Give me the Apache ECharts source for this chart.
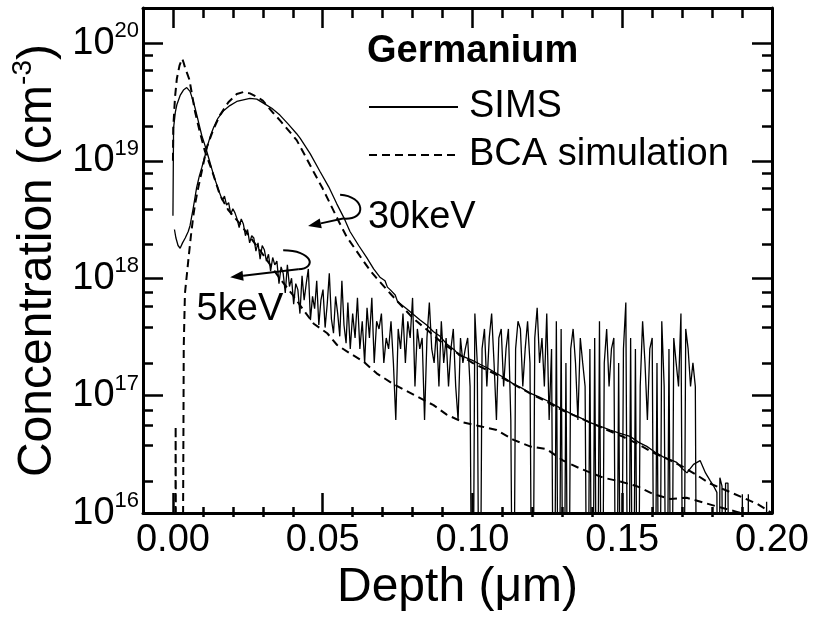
<!DOCTYPE html>
<html>
<head>
<meta charset="utf-8">
<script src="https://cdn.jsdelivr.net/npm/echarts@6/dist/echarts.min.js"></script>
<style>
    html, body { margin: 0; padding: 0; background: #fff; }
    #chart { width: 817px; height: 617px; }
</style>
</head>
<body>
<div id="chart"></div>
<script>
// Depth in um, concentration in cm^-3. A 0 is a zero-count SIMS channel.
const sims5keV = [
    [0.0000, 3.4e18], [0.0002, 1.9e19], [0.0008, 2.6e19], [0.0013, 3.0e19], [0.0024, 3.6e19],
    [0.0035, 4.0e19], [0.0046, 4.2e19], [0.0052, 4.1e19], [0.0057, 3.9e19], [0.0063, 3.5e19],
    [0.0068, 3.2e19], [0.0074, 2.8e19], [0.0079, 2.5e19], [0.0088, 2.0e19], [0.0096, 1.65e19],
    [0.0105, 1.4e19], [0.0113, 1.2e19], [0.0122, 1.0e19], [0.0130, 8.5e18], [0.0138, 7.2e18],
    [0.0146, 6.3e18], [0.0155, 5.4e18],
    [0.0165, 4.6e18], [0.0172, 5.0e18], [0.0179, 4.2e18], [0.0186, 4.4e18], [0.0193, 3.5e18],
    [0.0200, 3.9e18], [0.0207, 3.6e18], [0.0214, 3.2e18], [0.0221, 2.7e18], [0.0228, 3.2e18],
    [0.0235, 2.9e18], [0.0242, 2.3e18], [0.0249, 2.6e18], [0.0256, 2.0e18], [0.0263, 2.3e18],
    [0.0270, 2.2e18], [0.0277, 1.7e18], [0.0284, 2.0e18], [0.0291, 1.45e18], [0.0298, 1.9e18],
    [0.0305, 1.75e18], [0.0312, 1.4e18], [0.0319, 1.6e18], [0.0326, 1.15e18], [0.0333, 1.5e18],
    [0.0340, 1.3e18], [0.0347, 1.4e18], [0.0354, 9.0e17], [0.0361, 1.25e18], [0.0368, 1.1e18],
    [0.0375, 7.5e17], [0.0382, 1.3e18], [0.0389, 8.5e17], [0.0396, 1.0e18], [0.0403, 6.0e17],
    [0.0410, 9.0e17], [0.0417, 8.0e17], [0.0424, 5.0e17], [0.0431, 1.05e18], [0.0438, 6.5e17],
    [0.0445, 9.0e17], [0.0452, 1.2e18], [0.0459, 4.4e17], [0.0466, 7.0e17], [0.0473, 5.5e17],
    [0.0480, 9.5e17], [0.0487, 4.0e17], [0.0494, 6.5e17], [0.0501, 8.0e17], [0.0508, 3.8e17],
    [0.0515, 6.0e17], [0.0522, 1.1e18], [0.0529, 4.5e17], [0.0536, 3.4e17], [0.0543, 7.0e17],
    [0.0550, 5.0e17], [0.0557, 3.2e17], [0.0564, 9.5e17], [0.0571, 4.0e17], [0.0578, 2.8e17],
    [0.0584, 6.2e17], [0.0592, 2.5e17], [0.0600, 5.0e17], [0.0608, 3.1e17], [0.0616, 6.8e17],
    [0.0624, 2.5e17], [0.0632, 4.3e17], [0.0640, 1.9e17], [0.0648, 5.6e17], [0.0656, 3.1e17],
    [0.0664, 6.8e17], [0.0672, 1.9e17], [0.0680, 4.3e17], [0.0688, 3.7e17], [0.0696, 5.0e17],
    [0.0704, 1.9e17], [0.0712, 3.1e17], [0.0720, 2.5e17], [0.0728, 4.3e17], [0.0736, 1.9e17],
    [0.0744, 6.2e16], [0.0752, 3.7e17], [0.0760, 2.5e17], [0.0768, 5.0e17], [0.0776, 1.9e17],
    [0.0784, 4.3e17], [0.0792, 3.1e17], [0.0800, 6.8e17], [0.0808, 1.2e17], [0.0816, 3.7e17],
    [0.0824, 2.5e17], [0.0832, 3.1e17], [0.0840, 6.2e16], [0.0848, 3.1e17], [0.0856, 6.2e17],
    [0.0864, 2.5e17], [0.0872, 1.9e17], [0.0880, 3.7e17], [0.0888, 1.2e17], [0.0896, 4.3e17],
    [0.0904, 1.9e17], [0.0912, 3.1e17], [0.0920, 1.2e17], [0.0928, 2.5e17], [0.0936, 3.7e17],
    [0.0944, 1.2e17], [0.0952, 6.2e16], [0.0960, 3.1e17], [0.0968, 1.9e17], [0.0976, 2.5e17],
    [0.0984, 3.1e17], [0.0992, 1.2e17], [0.1000, 0], [0.1008, 5.0e17], [0.1016, 1.9e17],
    [0.1024, 0], [0.1032, 2.5e17], [0.1040, 3.7e17], [0.1048, 1.2e17], [0.1056, 3.1e17],
    [0.1064, 5.0e17], [0.1072, 1.9e17], [0.1080, 6.2e16], [0.1088, 3.1e17], [0.1096, 3.7e17],
    [0.1104, 1.2e17], [0.1112, 2.5e17], [0.1120, 3.7e17], [0.1128, 6.2e16], [0.1136, 0],
    [0.1144, 2.5e17], [0.1152, 4.3e17], [0.1160, 3.7e17], [0.1168, 1.2e17], [0.1176, 2.5e17],
    [0.1184, 4.3e17], [0.1192, 1.9e17], [0.1200, 0], [0.1208, 3.1e17], [0.1216, 5.6e17],
    [0.1224, 1.9e17], [0.1232, 3.1e17], [0.1240, 1.2e17], [0.1248, 5.0e17], [0.1256, 6.2e16],
    [0.1264, 2.5e17], [0.1272, 0], [0.1280, 4.3e17], [0.1288, 0], [0.1296, 3.7e17],
    [0.1304, 0], [0.1312, 1.9e17], [0.1320, 0], [0.1328, 2.5e17], [0.1336, 3.7e17],
    [0.1344, 1.9e17], [0.1352, 6.2e16], [0.1360, 3.1e17], [0.1368, 1.9e17], [0.1376, 1.2e17],
    [0.1384, 0], [0.1392, 2.5e17], [0.1400, 0], [0.1408, 3.1e17], [0.1416, 0],
    [0.1424, 4.3e17], [0.1432, 0], [0.1440, 1.9e17], [0.1448, 3.7e17], [0.1456, 1.2e17],
    [0.1464, 2.5e17], [0.1472, 3.1e17], [0.1480, 0], [0.1488, 1.9e17], [0.1496, 0],
    [0.1504, 2.5e17], [0.1512, 6.2e17], [0.1520, 0], [0.1528, 3.1e17], [0.1536, 0],
    [0.1544, 2.5e17], [0.1552, 0], [0.1560, 1.2e17], [0.1568, 4.3e17], [0.1576, 1.9e17],
    [0.1584, 6.2e16], [0.1592, 2.5e17], [0.1600, 3.1e17], [0.1608, 0], [0.1616, 1.9e17],
    [0.1624, 0], [0.1632, 4.3e17], [0.1640, 1.2e17], [0.1648, 0], [0.1656, 2.5e17],
    [0.1664, 0], [0.1672, 3.1e17], [0.1680, 1.9e17], [0.1688, 1.2e17], [0.1696, 5.0e17],
    [0.1704, 0], [0.1712, 3.7e17], [0.1720, 2.5e17], [0.1728, 1.2e17], [0.1736, 1.9e17],
    [0.1744, 1.2e17], [0.1750, 0],
]

const bca5keV = [
    [0.0000, 1.0e19], [0.0001, 1.9e19], [0.0007, 3.5e19], [0.0013, 5.0e19], [0.0022, 6.5e19],
    [0.0031, 7.4e19], [0.0036, 6.8e19], [0.0042, 6.0e19], [0.0048, 5.5e19], [0.0055, 4.9e19],
    [0.0065, 3.5e19], [0.0074, 2.6e19], [0.0090, 1.75e19], [0.0107, 1.2e19], [0.0130, 8.3e18],
    [0.0157, 5.1e18], [0.0185, 3.8e18], [0.0224, 2.9e18], [0.0260, 2.2e18], [0.0300, 1.6e18],
    [0.0350, 1.05e18], [0.0400, 7.2e17], [0.0435, 5.4e17], [0.0470, 4.1e17], [0.0515, 3.4e17],
    [0.0548, 2.7e17], [0.0590, 2.3e17], [0.0636, 1.95e17], [0.0680, 1.55e17], [0.0735, 1.26e17],
    [0.0800, 1.03e17], [0.0870, 8.3e16], [0.0914, 6.9e16], [0.0970, 5.9e16], [0.1025, 5.5e16],
    [0.1081, 5.1e16], [0.1137, 4.2e16], [0.1192, 3.7e16], [0.1248, 3.5e16], [0.1303, 2.8e16],
    [0.1359, 2.4e16], [0.1437, 2.0e16], [0.1493, 1.86e16], [0.1548, 1.7e16], [0.1604, 1.45e16],
    [0.1660, 1.32e16], [0.1715, 1.35e16], [0.1771, 1.23e16], [0.1826, 1.12e16], [0.1880, 1.03e16],
    [0.1930, 0.95e16], [0.2000, 0.85e16],
]

const sims30keV = [
    [0.0005, 2.6e18], [0.0010, 2.2e18], [0.0017, 1.9e18], [0.0024, 1.8e18], [0.0032, 2.0e18],
    [0.0041, 2.2e18], [0.0051, 2.5e18], [0.0057, 2.8e18], [0.0068, 4.0e18], [0.0079, 5.9e18],
    [0.0088, 7.4e18], [0.0096, 8.7e18], [0.0105, 1.05e19], [0.0113, 1.28e19], [0.0124, 1.6e19],
    [0.0135, 1.9e19], [0.0150, 2.3e19], [0.0168, 2.65e19], [0.0190, 2.95e19], [0.0213, 3.2e19],
    [0.0235, 3.3e19], [0.0257, 3.4e19], [0.0280, 3.35e19], [0.0302, 3.1e19], [0.0330, 2.8e19],
    [0.0357, 2.45e19], [0.0385, 2.05e19], [0.0413, 1.7e19], [0.0425, 1.55e19], [0.0458, 1.15e19],
    [0.0491, 8.1e18], [0.0520, 6.0e18], [0.0547, 4.3e18], [0.0570, 3.3e18], [0.0591, 2.5e18],
    [0.0620, 1.9e18], [0.0647, 1.5e18], [0.0670, 1.2e18], [0.0691, 1.02e18], [0.0708, 9.5e17],
    [0.0716, 8.4e17], [0.0725, 8.0e17], [0.0742, 7.2e17], [0.0750, 6.3e17], [0.0758, 6.1e17],
    [0.0780, 5.5e17], [0.0803, 4.9e17], [0.0825, 4.4e17], [0.0847, 4.0e17], [0.0870, 3.5e17],
    [0.0892, 3.2e17], [0.0914, 2.75e17], [0.0940, 2.45e17], [0.0955, 2.2e17], [0.0970, 2.15e17],
    [0.1000, 2.0e17], [0.1025, 1.85e17], [0.1050, 1.72e17], [0.1080, 1.55e17], [0.1110, 1.4e17],
    [0.1136, 1.26e17], [0.1165, 1.16e17], [0.1192, 1.05e17], [0.1220, 9.8e16], [0.1248, 9.1e16],
    [0.1275, 8.3e16], [0.1303, 7.6e16], [0.1330, 7.0e16], [0.1359, 6.5e16], [0.1393, 5.9e16],
    [0.1425, 5.5e16], [0.1460, 5.1e16], [0.1490, 4.8e16], [0.1526, 4.5e16], [0.1555, 4.0e16],
    [0.1582, 3.7e16], [0.1610, 3.3e16], [0.1638, 3.0e16], [0.1660, 2.85e16], [0.1682, 2.7e16],
    [0.1700, 2.4e16], [0.1716, 2.2e16], [0.1738, 2.6e16], [0.1760, 2.8e16], [0.1778, 2.2e16],
    [0.1793, 1.9e16], [0.1805, 1.7e16], [0.1816, 1.5e16], [0.1822, 0], [0.1826, 2.0e16],
    [0.1833, 1.7e16], [0.1838, 0], [0.1845, 1.8e16], [0.1853, 1.8e16], [0.1858, 0],
    [0.1898, 0], [0.1901, 1.45e16], [0.1905, 0], [0.1918, 0], [0.1921, 1.45e16],
    [0.1925, 0], [0.1979, 0], [0.1982, 1.25e16], [0.1986, 0],
]

const bca30keV = [
    [0.0007, 0], [0.0009, 5.5e16], [0.0011, 0], [0.0032, 0], [0.0034, 1.2e16],
    [0.0035, 5.0e16], [0.0036, 2.6e17], [0.0040, 7.4e17], [0.0051, 1.4e18], [0.0060, 2.3e18],
    [0.0068, 3.4e18], [0.0074, 4.3e18], [0.0085, 6.0e18], [0.0096, 8.1e18], [0.0113, 1.3e19],
    [0.0135, 1.85e19], [0.0157, 2.45e19], [0.0185, 3.15e19], [0.0213, 3.7e19], [0.0235, 3.85e19],
    [0.0257, 3.75e19], [0.0280, 3.5e19], [0.0300, 3.25e19], [0.0335, 2.55e19], [0.0358, 2.2e19],
    [0.0413, 1.5e19], [0.0440, 1.12e19], [0.0469, 8.1e18], [0.0500, 5.8e18], [0.0525, 4.3e18],
    [0.0555, 3.0e18], [0.0580, 2.25e18], [0.0610, 1.75e18], [0.0636, 1.4e18], [0.0660, 1.15e18],
    [0.0680, 1.0e18], [0.0730, 7.2e17], [0.0800, 4.6e17], [0.0850, 3.6e17], [0.0900, 2.8e17],
    [0.0950, 2.3e17], [0.1000, 1.9e17], [0.1050, 1.65e17], [0.1100, 1.42e17], [0.1150, 1.2e17],
    [0.1200, 1.02e17], [0.1250, 8.8e16], [0.1300, 7.5e16], [0.1350, 6.6e16], [0.1400, 5.8e16],
    [0.1450, 5.1e16], [0.1500, 4.5e16], [0.1550, 3.9e16], [0.1600, 3.3e16], [0.1650, 2.9e16],
    [0.1700, 2.5e16], [0.1750, 2.1e16], [0.1790, 1.8e16], [0.1850, 1.55e16], [0.1904, 1.35e16],
    [0.1950, 1.2e16], [0.1982, 1.07e16], [0.2000, 1.0e16],
]

const xMajorTicks = [0, 0.05, 0.1, 0.15, 0.2]
const xMinorTicks = [0.01, 0.02, 0.03, 0.04, 0.06, 0.07, 0.08, 0.09, 0.11, 0.12, 0.13, 0.14, 0.16, 0.17, 0.18, 0.19]
const yMajorTicks = [1e16, 1e17, 1e18, 1e19, 1e20]
const yMinorTicks = [
    2e16, 4e16, 6e16, 8e16, 2e17, 4e17, 6e17, 8e17,
    2e18, 4e18, 6e18, 8e18, 2e19, 4e19, 6e19, 8e19,
]

// energy labels with their looped arrows, anchored in data units
const notes = [
    {
        label: '30keV', labelAt: [0.0651, 3.3e18],
        loop: [[0.0558, 5.15e18], [0.0641, 5.0e18], [0.0651, 3.1e18], [0.0568, 3.22e18]],
        tip: [0.0451, 2.78e18],
    },
    {
        label: '5keV', labelAt: [0.0079, 5.4e17],
        loop: [[0.0368, 1.73e18], [0.0464, 1.73e18], [0.0484, 1.22e18], [0.0418, 1.19e18]],
        tip: [0.0191, 1.02e18],
    },
]

const font = "'Liberation Sans', Arial, Helvetica, sans-serif"
const ink = '#000'
const belowAxis = 1e14 // stand-in for zero counts on the log axis
const toPlot = (pts) => pts.map(([d, c]) => [d, c > 0 ? c : belowAxis])

const majorTick = (values) => ({
    show: true, inside: true, length: 20, customValues: values,
    lineStyle: { color: ink, width: 2.5 },
})
const minorTick = (values) => ({
    show: true, inside: true, length: 10, customValues: values,
    lineStyle: { color: ink, width: 2.5 },
})
const frameLine = { show: true, onZero: false, lineStyle: { color: ink, width: 3 } }
const noLine = { show: false, onZero: false }

const xBase = { type: 'value', min: -0.01, max: 0.2, splitLine: { show: false } }
const yBase = { type: 'log', logBase: 10, min: 1e16, max: 2e20, splitLine: { show: false } }

const solid = { color: ink, width: 1.3 }
const dashed = { color: ink, width: 2, type: [8, 5] }

const chart = echarts.init(document.getElementById('chart'))

chart.setOption({
    animation: false,
    backgroundColor: '#fff',
    color: [ink],
    textStyle: { fontFamily: font, color: ink },
    title: {
        text: 'Germanium', left: 367, top: 33, padding: 0,
        textStyle: { fontSize: 38, fontWeight: 'bold', fontFamily: font, color: ink },
    },
    legend: {
        data: ['SIMS', 'BCA simulation'],
        orient: 'vertical', left: 368, top: 88, padding: 0,
        itemWidth: 89, itemHeight: 12, itemGap: 10,
        selectedMode: false,
        itemStyle: { opacity: 0 },
        textStyle: { fontSize: 38, fontFamily: font, color: ink, padding: [0, 0, 0, 6] },
    },
    grid: [
        { left: 143, top: 8, right: 45, bottom: 100 },
        { left: 143, top: 8, right: 45, bottom: 100 },
    ],
    xAxis: [
        {
            ...xBase, gridIndex: 0, position: 'bottom',
            axisLine: frameLine, axisTick: majorTick(xMajorTicks),
            axisLabel: {
                customValues: xMajorTicks, margin: 8, color: ink,
                fontSize: 38, fontFamily: font,
                formatter: (v) => v.toFixed(2),
            },
            name: 'Depth (μm)', nameLocation: 'middle', nameGap: 42,
            nameTextStyle: { fontSize: 48, fontFamily: font, color: ink },
        },
        {
            ...xBase, gridIndex: 0, position: 'top',
            axisLine: frameLine, axisTick: majorTick(xMajorTicks), axisLabel: { show: false },
        },
        {
            ...xBase, gridIndex: 1, position: 'bottom',
            axisLine: noLine, axisTick: minorTick(xMinorTicks), axisLabel: { show: false },
        },
        {
            ...xBase, gridIndex: 1, position: 'top',
            axisLine: noLine, axisTick: minorTick(xMinorTicks), axisLabel: { show: false },
        },
    ],
    yAxis: [
        {
            ...yBase, gridIndex: 0, position: 'left',
            axisLine: frameLine, axisTick: majorTick(yMajorTicks),
            axisLabel: {
                customValues: yMajorTicks, margin: 4,
                formatter: (v) => `{b|10}{s|${Math.round(Math.log10(v))}}`,
                rich: {
                    b: { fontSize: 38, fontFamily: font, color: ink, lineHeight: 46 },
                    s: { fontSize: 22, fontFamily: font, color: ink, lineHeight: 20, verticalAlign: 'top' },
                },
            },
            name: '{t|Concentration (cm}{s|-3}{t|)}',
            nameLocation: 'middle', nameGap: 62,
            nameTextStyle: {
                rich: {
                    t: { fontSize: 48, fontFamily: font, color: ink, lineHeight: 56 },
                    s: { fontSize: 28, fontFamily: font, color: ink, lineHeight: 26, verticalAlign: 'top' },
                },
            },
        },
        {
            ...yBase, gridIndex: 0, position: 'right',
            axisLine: frameLine, axisTick: majorTick(yMajorTicks), axisLabel: { show: false },
        },
        {
            ...yBase, gridIndex: 1, position: 'left',
            axisLine: noLine, axisTick: minorTick(yMinorTicks), axisLabel: { show: false },
        },
        {
            ...yBase, gridIndex: 1, position: 'right',
            axisLine: noLine, axisTick: minorTick(yMinorTicks), axisLabel: { show: false },
        },
    ],
    series: [
        { name: 'SIMS', type: 'line', data: toPlot(sims5keV), symbol: 'none', lineStyle: solid, itemStyle: { color: ink }, silent: true },
        { name: 'SIMS', type: 'line', data: toPlot(sims30keV), symbol: 'none', lineStyle: solid, itemStyle: { color: ink }, silent: true },
        { name: 'BCA simulation', type: 'line', data: toPlot(bca5keV), symbol: 'none', lineStyle: dashed, itemStyle: { color: ink }, silent: true },
        { name: 'BCA simulation', type: 'line', data: toPlot(bca30keV), symbol: 'none', lineStyle: dashed, itemStyle: { color: ink }, silent: true },
    ],
})

const drawNotes = () => {
    const px = (p) => chart.convertToPixel({ xAxisIndex: 0, yAxisIndex: 0 }, p)
    const els = []
    for (const n of notes) {
        const [p0, c1, c2, p3] = n.loop.map(px)
        const tip = px(n.tip)
        els.push({
            type: 'bezierCurve', silent: true,
            shape: { x1: p0[0], y1: p0[1], cpx1: c1[0], cpy1: c1[1], cpx2: c2[0], cpy2: c2[1], x2: p3[0], y2: p3[1] },
            style: { stroke: ink, lineWidth: 2, fill: null },
        })
        // shaft stops where the arrow head starts
        const dx = tip[0] - p3[0]
        const dy = tip[1] - p3[1]
        const len = Math.hypot(dx, dy)
        const ux = dx / len
        const uy = dy / len
        const base = [tip[0] - ux * 13, tip[1] - uy * 13]
        els.push({
            type: 'line', silent: true,
            shape: { x1: p3[0], y1: p3[1], x2: base[0], y2: base[1] },
            style: { stroke: ink, lineWidth: 2 },
        })
        els.push({
            type: 'polygon', silent: true,
            shape: { points: [tip, [base[0] - uy * 5, base[1] + ux * 5], [base[0] + uy * 5, base[1] - ux * 5]] },
            style: { fill: ink },
        })
        const lp = px(n.labelAt)
        els.push({
            type: 'text', silent: true, x: lp[0], y: lp[1],
            style: { text: n.label, font: `38px ${font}`, fill: ink, verticalAlign: 'middle' },
        })
    }
    chart.setOption({ graphic: els })
}
drawNotes()
</script>
</body>
</html>
